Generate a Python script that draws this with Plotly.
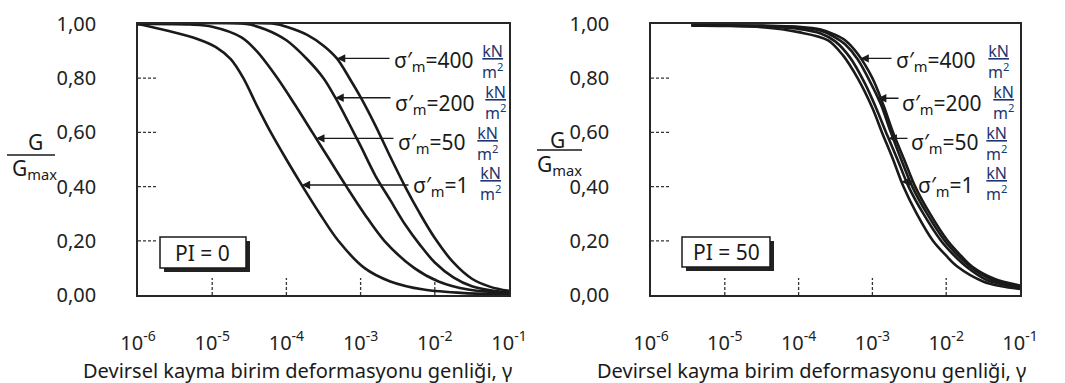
import numpy as np
import plotly.graph_objects as go
from plotly.subplots import make_subplots

# ---- Data: G/Gmax vs log10(cyclic shear strain), PI = 0 ----
pi0_s1_x = [-6.0, -5.6, -5.2, -4.95, -4.75, -4.58, -4.4, -4.21, -4.0, -3.78, -3.55, -3.3, -2.95, -2.6, -2.15, -1.6, -1.0]
pi0_s1_y = [1.0, 0.975, 0.945, 0.915, 0.87, 0.80, 0.70, 0.60, 0.50, 0.40, 0.30, 0.20, 0.10, 0.05, 0.02, 0.007, 0.003]

pi0_s50_x = [-6.0, -5.3, -5.0, -4.6, -4.4, -4.12, -3.88, -3.65, -3.42, -3.19, -2.95, -2.68, -2.28, -1.95, -1.55, -1.0]
pi0_s50_y = [1.0, 0.998, 0.99, 0.95, 0.90, 0.80, 0.70, 0.60, 0.50, 0.40, 0.30, 0.20, 0.10, 0.05, 0.02, 0.007]

pi0_s200_x = [-6.0, -4.54, -4.28, -4.0, -3.72, -3.5, -3.34, -3.15, -3.0, -2.8, -2.6, -2.4, -2.2, -2.0, -1.75, -1.5, -1.25, -1.0]
pi0_s200_y = [1.0, 1.0, 0.98, 0.94, 0.87, 0.80, 0.728, 0.63, 0.55, 0.44, 0.35, 0.26, 0.185, 0.12, 0.065, 0.032, 0.017, 0.01]

pi0_s400_x = [-6.0, -4.15, -4.0, -3.72, -3.5, -3.32, -3.15, -3.0, -2.8, -2.6, -2.4, -2.2, -2.0, -1.75, -1.5, -1.25, -1.0]
pi0_s400_y = [1.0, 1.0, 0.99, 0.96, 0.92, 0.873, 0.80, 0.73, 0.625, 0.51, 0.40, 0.30, 0.21, 0.12, 0.06, 0.03, 0.015]

# ---- Data: PI = 50 ----
pi50_s1_x = [-5.45, -5.0, -4.5, -4.0, -3.6, -3.4, -3.2, -3.0, -2.87, -2.72, -2.58, -2.4, -2.18, -2.0, -1.85, -1.5, -1.25, -1.0]
pi50_s1_y = [0.995, 0.993, 0.988, 0.97, 0.94, 0.885, 0.80, 0.69, 0.60, 0.50, 0.40, 0.30, 0.20, 0.145, 0.105, 0.05, 0.032, 0.022]

pi50_s50_x = [-5.45, -5.0, -4.5, -4.0, -3.7, -3.5, -3.3, -3.1, -2.95, -2.8, -2.66, -2.51, -2.31, -2.07, -1.89, -1.73, -1.45, -1.0]
pi50_s50_y = [0.995, 0.994, 0.991, 0.982, 0.965, 0.935, 0.875, 0.78, 0.69, 0.59, 0.50, 0.40, 0.30, 0.20, 0.145, 0.105, 0.055, 0.028]

pi50_s200_x = [-5.45, -4.5, -4.0, -3.7, -3.5, -3.37, -3.2, -3.0, -2.88, -2.75, -2.61, -2.46, -2.26, -2.02, -1.84, -1.68, -1.4, -1.0]
pi50_s200_y = [0.995, 0.993, 0.988, 0.975, 0.95, 0.925, 0.87, 0.77, 0.70, 0.60, 0.50, 0.40, 0.30, 0.20, 0.145, 0.105, 0.058, 0.032]

pi50_s400_x = [-5.45, -4.5, -4.0, -3.7, -3.5, -3.37, -3.2, -3.0, -2.85, -2.72, -2.57, -2.42, -2.22, -1.98, -1.8, -1.65, -1.35, -1.0]
pi50_s400_y = [0.995, 0.994, 0.99, 0.98, 0.96, 0.94, 0.89, 0.80, 0.70, 0.60, 0.50, 0.40, 0.30, 0.20, 0.145, 0.105, 0.06, 0.035]

pressures = ["400", "200", "50", "1"]
x_tick_vals = [1e-6, 1e-5, 1e-4, 1e-3, 1e-2, 1e-1]
x_tick_text = ["10<sup>-6</sup>", "10<sup>-5</sup>", "10<sup>-4</sup>", "10<sup>-3</sup>", "10<sup>-2</sup>", "10<sup>-1</sup>"]
y_tick_vals = [0.0, 0.2, 0.4, 0.6, 0.8, 1.0]
y_tick_text = ["0,00", "0,20", "0,40", "0,60", "0,80", "1,00"]
x_title = "Devirsel kayma birim deformasyonu genliği, γ"

# ---- Page geometry (pixels) ----
W, H = 1065, 383
PLOT_TOP, PLOT_BOT = 24, 295
LEFT_X = (138, 509)
RIGHT_X = (651, 1020)
FONT = "Noto Sans"
INK = "#1a1a1a"
BLUE = "#1d3570"


def px(x):
    return x / W


def py(y):
    return 1 - y / H


fig = make_subplots(rows=1, cols=2)

panels = [
    dict(col=1, xr=LEFT_X, pi="PI = 0",
         curves=[(pi0_s400_x, pi0_s400_y), (pi0_s200_x, pi0_s200_y),
                 (pi0_s50_x, pi0_s50_y), (pi0_s1_x, pi0_s1_y)],
         arrow_levels=[0.873, 0.728, 0.578, 0.406],
         tails=[391, 392, 395, 410],
         labels=[(392, 61), (393, 104), (396, 143), (411, 186)],
         fracs=[(492, 61), (495, 102), (487, 143), (490, 184)],
         ylab=(36, 142, 7, 55, 155, 34, 169),
         box=(160, 237, 246, 268),
         title_x=297),
    dict(col=2, xr=RIGHT_X, pi="PI = 50",
         curves=[(pi50_s400_x, pi50_s400_y), (pi50_s200_x, pi50_s200_y),
                 (pi50_s50_x, pi50_s50_y), (pi50_s1_x, pi50_s1_y)],
         arrow_levels=[0.873, 0.726, 0.578, 0.418],
         tails=[893, 900, 909, 915],
         labels=[(894, 61), (900, 104), (909, 143), (916, 186)],
         fracs=[(998, 61), (1003, 102), (996, 143), (996, 184)],
         ylab=(557, 140, 537, 582, 150, 559, 165),
         box=(682, 237, 770, 267),
         title_x=812),
]

for p in panels:
    col = p["col"]
    for cx, cy in p["curves"]:
        fig.add_trace(go.Scatter(
            x=[10 ** v for v in cx], y=cy, mode="lines",
            line=dict(color=INK, width=2.6, shape="spline", smoothing=0.9),
            showlegend=False, hoverinfo="skip"), row=1, col=col)

axis_common = dict(showgrid=False, zeroline=False, showline=True, mirror=True,
                   linecolor="#262626", linewidth=1.6, ticks="", automargin=False,
                   tickfont=dict(family=FONT, size=20, color="#222"))

for p in panels:
    n = "" if p["col"] == 1 else "2"
    x0, x1 = p["xr"]
    fig.layout["xaxis" + n].update(
        type="log", range=[-6, -1], domain=[px(x0), px(x1)],
        tickvals=x_tick_vals, ticktext=x_tick_text, ticklabelstandoff=29,
        **axis_common)
    fig.layout["yaxis" + n].update(
        range=[0, 1], domain=[py(PLOT_BOT), py(PLOT_TOP)],
        tickvals=y_tick_vals, ticktext=y_tick_text, ticklabelstandoff=36,
        **axis_common)

shapes = []
annotations = []

for p in panels:
    n = "" if p["col"] == 1 else "2"
    xref, yref = "x" + n, "y" + n
    x0, x1 = p["xr"]
    dec = (x1 - x0) / 5.0

    # short dashed ticks inside the frame
    for v in x_tick_vals[1:-1]:
        shapes.append(dict(type="line", xref=xref, yref=yref + " domain",
                           x0=v, x1=v, y0=0, y1=17 / (PLOT_BOT - PLOT_TOP),
                           line=dict(color="#333", width=1.3, dash="3px,2px")))
    for v in y_tick_vals[1:-1]:
        shapes.append(dict(type="line", xref=xref + " domain", yref=yref,
                           x0=0, x1=19 / (x1 - x0), y0=v, y1=v,
                           line=dict(color="#333", width=1.3, dash="3px,2px")))

    # arrows from each label to its curve
    for (cx, cy), lvl, tail, (lx, ly), (fx, fy), s in zip(
            p["curves"], p["arrow_levels"], p["tails"], p["labels"], p["fracs"], pressures):
        tip = float(np.interp(lvl, cy[::-1], cx[::-1]))
        tail_log = -6 + (tail - x0) / dec
        annotations.append(dict(
            xref=xref, yref=yref, x=tip, y=lvl, axref=xref, ayref=yref,
            ax=tail_log, ay=lvl, text="", showarrow=True, arrowhead=2,
            arrowsize=1.2, arrowwidth=1.4, arrowcolor=INK, standoff=0))
        annotations.append(dict(
            xref="paper", yref="paper", x=px(lx), y=py(ly), xanchor="left",
            yanchor="middle", showarrow=False,
            text="σ′<sub>m</sub>=" + s,
            font=dict(family=FONT, size=21, color=INK)))
        annotations.append(dict(
            xref="paper", yref="paper", x=px(fx), y=py(fy), xanchor="center",
            yanchor="middle", showarrow=False,
            text="<u>kN</u><br>m<sup>2</sup>",
            font=dict(family=FONT, size=16, color=BLUE)))

    # G / Gmax axis label
    gx, gy, lx0, lx1, ly_, dx, dy = p["ylab"]
    annotations.append(dict(xref="paper", yref="paper", x=px(gx), y=py(gy),
                            xanchor="center", yanchor="middle", showarrow=False,
                            text="G", font=dict(family=FONT, size=21, color=INK)))
    annotations.append(dict(xref="paper", yref="paper", x=px(dx), y=py(dy),
                            xanchor="center", yanchor="middle", showarrow=False,
                            text="G<sub>max</sub>", font=dict(family=FONT, size=21, color=INK)))
    shapes.append(dict(type="line", xref="paper", yref="paper",
                       x0=px(lx0), x1=px(lx1), y0=py(ly_), y1=py(ly_),
                       line=dict(color=INK, width=1.4)))

    # PI box with drop shadow
    bx0, by0, bx1, by1 = p["box"]
    shapes.append(dict(type="rect", xref="paper", yref="paper",
                       x0=px(bx0 + 4), x1=px(bx1 + 4), y0=py(by1 + 4), y1=py(by0 + 4),
                       fillcolor="#222", line=dict(width=0)))
    shapes.append(dict(type="rect", xref="paper", yref="paper",
                       x0=px(bx0), x1=px(bx1), y0=py(by1), y1=py(by0),
                       fillcolor="white", line=dict(color=INK, width=1.5)))
    annotations.append(dict(xref="paper", yref="paper",
                            x=px((bx0 + bx1) / 2), y=py((by0 + by1) / 2),
                            xanchor="center", yanchor="middle", showarrow=False,
                            text=p["pi"], font=dict(family=FONT, size=21, color=INK)))

    # x-axis title
    annotations.append(dict(xref="paper", yref="paper", x=px(p["title_x"]), y=py(370),
                            xanchor="center", yanchor="middle", showarrow=False,
                            text=x_title, font=dict(family=FONT, size=20, color=INK)))

fig.update_layout(
    width=W, height=H, margin=dict(l=0, r=0, t=0, b=0),
    paper_bgcolor="white", plot_bgcolor="white",
    shapes=shapes, annotations=annotations, showlegend=False,
)

fig.write_html("out.html")
